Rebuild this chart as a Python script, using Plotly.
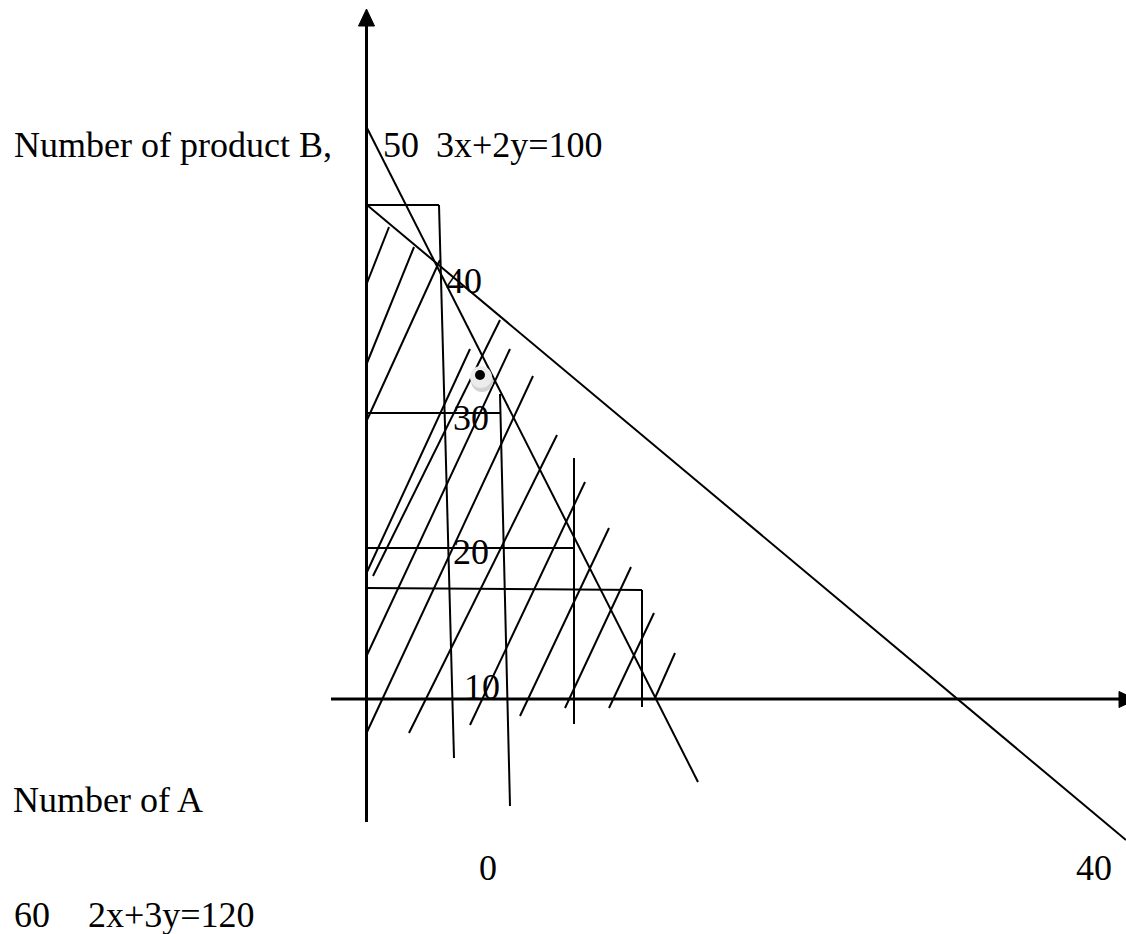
import plotly.graph_objects as go

W, H = 1126, 934

# Axes of the sketch (drawing units, origin at top-left)
axis_vertical = [(366.5, 25), (366.5, 822)]
axis_horizontal = [(331, 699), (1120, 699)]
arrow_up = [(366.5, 9), (358.5, 26), (374.5, 26)]
arrow_right = [(1136, 699.5), (1119, 691.5), (1119, 707.5)]

# Constraint lines
line_3x2y = [(367, 128), (698, 782)]      # 3x+2y=100
line_2x3y = [(367, 205), (1126, 840)]     # 2x+3y=120

# Step outlines (horizontal runs and their drop lines)
steps_h = [
    [(367, 205), (439, 205)],
    [(367, 413), (500, 413)],
    [(367, 548), (574, 548)],
    [(367, 588), (642, 590)],
]
steps_v = [
    [(439, 205), (454, 758)],
    [(500, 394), (510, 806)],
    [(574, 458), (574, 724)],
    [(642, 590), (642, 707)],
]

# Shading strokes over the feasible region
hatches = [
    [(367, 283), (389, 227)],
    [(367, 363), (414, 247)],
    [(367, 420), (440, 260)],
    [(367, 572), (470, 349)],
    [(373, 576), (500, 320)],
    [(367, 655), (510, 349)],
    [(367, 732), (533, 376)],
    [(409, 733), (557, 435)],
    [(470, 725), (585, 482)],
    [(520, 716), (609, 528)],
    [(565, 708), (631, 567)],
    [(609, 708), (654, 613)],
    [(655, 698), (675, 653)],
]

# Optimum point marker
optimum = (480, 375)

# Text labels: (text, x, y, xanchor)
labels = [
    ("Number of product B,", 12, 145, "left"),
    ("50", 381, 145, "left"),
    ("3x+2y=100", 434, 145, "left"),
    ("40", 444, 281, "left"),
    ("30", 451, 418, "left"),
    ("20", 451, 552, "left"),
    ("10", 462, 687, "left"),
    ("0", 488, 868, "center"),
    ("40", 1094, 868, "center"),
    ("Number of A", 11, 800, "left"),
    ("60", 12, 915, "left"),
    ("2x+3y=120", 86, 915, "left"),
]


def segments_xy(segs):
    xs, ys = [], []
    for seg in segs:
        for px, py in seg:
            xs.append(px)
            ys.append(py)
        xs.append(None)
        ys.append(None)
    return xs, ys


def line_trace(segs, width):
    xs, ys = segments_xy(segs)
    return go.Scatter(x=xs, y=ys, mode="lines",
                      line=dict(color="black", width=width),
                      hoverinfo="skip", showlegend=False)


def tri_trace(pts):
    xs = [p[0] for p in pts] + [pts[0][0]]
    ys = [p[1] for p in pts] + [pts[0][1]]
    return go.Scatter(x=xs, y=ys, mode="lines", fill="toself",
                      fillcolor="black", line=dict(color="black", width=1),
                      hoverinfo="skip", showlegend=False)


fig = go.Figure()
fig.add_trace(line_trace(hatches, 2))
fig.add_trace(line_trace(steps_h, 2))
fig.add_trace(line_trace(steps_v, 2))
fig.add_trace(line_trace([line_3x2y, line_2x3y], 2))
fig.add_trace(line_trace([axis_vertical, axis_horizontal], 3))
fig.add_trace(tri_trace(arrow_up))
fig.add_trace(tri_trace(arrow_right))

# soft shadow under the optimum dot, then the dot itself
fig.add_trace(go.Scatter(x=[optimum[0] + 2], y=[optimum[1] + 6], mode="markers",
                         marker=dict(size=22, color="#d2d2d2"),
                         hoverinfo="skip", showlegend=False))
fig.add_trace(go.Scatter(x=[optimum[0] + 1], y=[optimum[1] + 2], mode="markers",
                         marker=dict(size=22, color="#ececec"),
                         hoverinfo="skip", showlegend=False))
fig.add_trace(go.Scatter(x=[optimum[0]], y=[optimum[1]], mode="markers",
                         marker=dict(size=10, color="black"),
                         hoverinfo="skip", showlegend=False))

for text, tx, ty, xa in labels:
    fig.add_annotation(x=tx, y=ty, text=text, showarrow=False,
                       xanchor=xa, yanchor="middle",
                       font=dict(family="Liberation Serif", size=36, color="black"))

fig.update_layout(
    width=W, height=H,
    margin=dict(l=0, r=0, t=0, b=0),
    paper_bgcolor="white", plot_bgcolor="white",
    xaxis=dict(range=[0, W], visible=False, fixedrange=True),
    yaxis=dict(range=[H, 0], visible=False, fixedrange=True),
)

fig.write_html("out.html")
